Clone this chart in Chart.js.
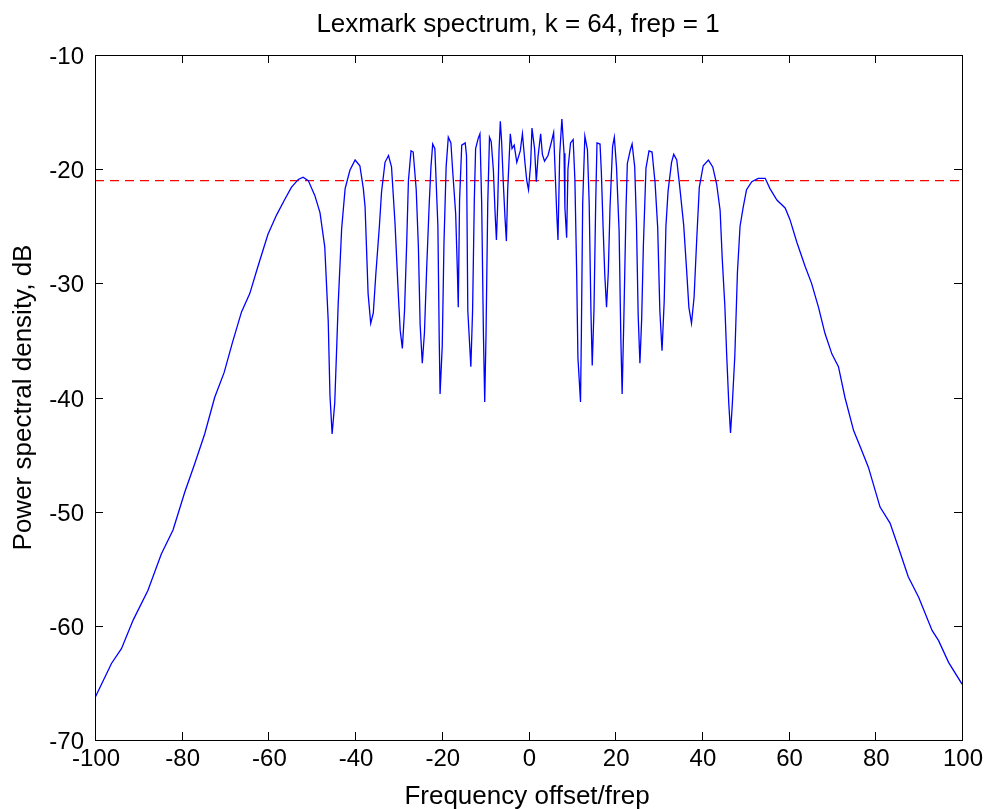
<!DOCTYPE html>
<html>
<head>
<meta charset="utf-8">
<script src="https://cdn.jsdelivr.net/npm/chart.js@4.4.1/dist/chart.umd.min.js"></script>
<style>
    body { margin: 0; background: #ffffff; }
    #wrap { width: 984px; height: 809px; }
</style>
</head>
<body>
<div id="wrap"><canvas id="spectrumChart" width="984" height="809"></canvas></div>
<script>
// Lexmark spectrum
const freq = [
    -100.0, -96.2, -93.9, -91.2, -87.8, -84.7, -82.0, -79.3, -77.0, -74.7,
    -72.4, -70.2, -68.3, -66.2, -64.3, -62.4, -60.1, -58.1, -56.3, -54.7,
    -53.1, -52.0, -50.8, -49.3, -48.1, -47.0, -46.2, -45.8, -45.3, -44.7,
    -44.3, -43.9, -43.1, -42.3, -41.2, -40.0, -38.9, -38.1, -37.7, -37.0,
    -36.4, -35.8, -35.2, -34.4, -33.9, -33.1, -32.3, -31.6, -30.8, -30.0,
    -29.6, -29.1, -28.6, -28.1, -27.7, -27.1, -26.6, -25.9, -25.4, -25.0,
    -24.5, -24.0, -23.5, -22.9, -22.5, -22.1, -21.6, -20.9, -20.6, -20.4,
    -19.9, -19.5, -19.0, -18.5, -17.9, -17.5, -16.8, -16.4, -16.2, -15.9,
    -15.4, -14.6, -14.3, -14.0, -13.3, -12.9, -12.5, -12.2, -11.6, -11.2,
    -10.8, -10.4, -10.1, -9.8, -9.4, -9.0, -8.6, -8.1, -7.7, -7.4,
    -7.1, -6.8, -6.5, -6.2, -5.8, -5.4, -5.1, -4.8, -4.2, -3.8,
    -3.3, -2.7, -1.9, -1.4, -0.8, -0.4, 0.0, 0.5, 0.8, 1.4,
    1.8, 2.2, 2.8, 3.2, 3.7, 4.5, 5.3, 5.8, 6.5, 6.8,
    7.2, 7.7, 8.2, 8.4, 8.8, 9.1, 9.7, 10.3, 10.7, 11.1,
    11.4, 12.0, 12.2, 12.5, 13.0, 13.6, 14.0, 14.4, 14.7, 15.1,
    15.5, 15.8, 16.5, 16.8, 17.2, 17.6, 18.0, 18.4, 18.8, 19.4,
    19.8, 20.3, 20.9, 21.3, 21.6, 22.0, 22.5, 22.8, 23.5, 23.9,
    24.5, 24.9, 25.3, 25.7, 26.1, 26.5, 27.1, 27.8, 28.5, 29.2,
    29.8, 30.3, 30.8, 31.3, 31.7, 32.2, 33.0, 33.5, 34.2, 34.9,
    35.8, 36.5, 37.0, 37.6, 38.2, 38.8, 39.4, 40.3, 41.5, 42.5,
    43.4, 44.2, 44.7, 45.3, 45.7, 46.2, 46.6, 47.0, 47.6, 48.2,
    48.8, 49.5, 50.3, 51.5, 53.0, 54.6, 55.7, 57.3, 59.2, 60.3,
    61.9, 63.8, 65.3, 66.9, 68.4, 70.0, 71.5, 73.0, 75.0, 76.5,
    78.4, 81.1, 83.4, 85.3, 87.6, 90.0, 93.1, 94.6, 96.9, 100.0
];
const psd = [
    -66.3, -63.3, -62.0, -59.5, -56.9, -53.7, -51.6, -48.3, -45.8, -43.2,
    -40.0, -37.8, -35.2, -32.5, -30.9, -28.5, -25.7, -24.0, -22.7, -21.6,
    -20.9, -20.7, -21.0, -22.3, -23.8, -26.8, -33.3, -39.8, -43.2, -40.5,
    -36.2, -31.8, -25.2, -21.7, -20.1, -19.2, -19.7, -21.7, -23.3, -30.9,
    -33.5, -32.6, -29.1, -25.0, -22.0, -19.4, -18.8, -19.8, -24.7, -31.2,
    -34.1, -35.7, -32.4, -26.5, -21.0, -18.4, -18.5, -21.8, -26.8, -33.6,
    -37.0, -34.3, -28.8, -23.0, -19.8, -17.8, -18.2, -25.0, -34.7, -39.7,
    -35.5, -26.5, -19.8, -17.2, -17.7, -20.1, -23.9, -29.0, -32.1, -22.7,
    -17.9, -17.7, -18.8, -32.4, -37.3, -32.4, -22.7, -18.2, -17.3, -16.9,
    -23.0, -34.4, -40.4, -34.5, -23.0, -17.2, -17.6, -20.1, -23.9, -26.2,
    -23.0, -18.4, -15.8, -17.6, -21.3, -24.4, -26.3, -21.8, -16.9, -18.2,
    -17.9, -19.4, -18.4, -16.9, -19.5, -21.0, -21.8, -19.5, -16.4, -18.2,
    -21.1, -18.9, -16.9, -18.7, -19.3, -18.8, -17.6, -16.8, -23.7, -26.2,
    -18.7, -15.6, -18.6, -23.4, -26.0, -20.0, -17.7, -17.4, -20.9, -28.8,
    -36.5, -40.4, -34.3, -23.0, -17.1, -18.3, -23.0, -32.4, -37.2, -32.4,
    -23.0, -17.7, -17.8, -20.2, -25.0, -29.3, -32.1, -29.1, -23.4, -18.0,
    -17.2, -19.8, -25.4, -34.8, -39.7, -33.0, -23.4, -19.5, -18.3, -17.8,
    -19.8, -24.7, -32.8, -37.0, -33.2, -26.7, -19.9, -18.4, -18.5, -21.2,
    -25.1, -32.4, -35.9, -31.6, -25.0, -21.9, -19.4, -18.7, -19.2, -21.6,
    -24.9, -29.0, -32.1, -33.5, -31.2, -26.2, -21.6, -19.7, -19.2, -19.8,
    -21.3, -23.6, -27.9, -32.0, -36.1, -40.5, -43.1, -40.7, -36.3, -29.0,
    -25.0, -23.4, -21.8, -21.1, -20.8, -20.8, -21.7, -22.7, -23.4, -24.4,
    -26.4, -28.5, -30.0, -32.1, -34.4, -36.2, -37.3, -40.0, -42.9, -44.3,
    -46.1, -49.6, -51.0, -53.1, -55.7, -57.5, -60.4, -61.3, -63.2, -65.1
];
const thresholdLevel = -21.0;
const xTicks = [-100, -80, -60, -40, -20, 0, 20, 40, 60, 80, 100];
const yTicks = [-10, -20, -30, -40, -50, -60, -70];

const titleText = 'Lexmark spectrum, k = 64, frep = 1';
const xLabel = 'Frequency offset/frep';
const yLabel = 'Power spectral density, dB';

const fontFamily = "'Liberation Sans', Arial, sans-serif";

// Matlab-like box with inward ticks, labels and titles
const matlabAxes = {
    id: 'matlabAxes',
    afterDraw(chart) {
        const ctx = chart.ctx;
        const area = chart.chartArea;
        const xs = chart.scales.x;
        const ys = chart.scales.y;
        const tickLen = 8;

        ctx.save();
        ctx.strokeStyle = '#000000';
        ctx.lineWidth = 1;
        ctx.strokeRect(area.left + 0.5, area.top + 0.5, area.right - area.left, area.bottom - area.top);

        ctx.beginPath();
        xTicks.forEach(function(v) {
            const px = Math.round(xs.getPixelForValue(v)) + 0.5;
            ctx.moveTo(px, area.bottom);
            ctx.lineTo(px, area.bottom - tickLen);
            ctx.moveTo(px, area.top);
            ctx.lineTo(px, area.top + tickLen);
        });
        yTicks.forEach(function(v) {
            const py = Math.round(ys.getPixelForValue(v)) + 0.5;
            ctx.moveTo(area.left, py);
            ctx.lineTo(area.left + tickLen, py);
            ctx.moveTo(area.right, py);
            ctx.lineTo(area.right - tickLen, py);
        });
        ctx.stroke();

        ctx.fillStyle = '#000000';
        ctx.font = '24px ' + fontFamily;
        ctx.textBaseline = 'alphabetic';
        ctx.textAlign = 'center';
        xTicks.forEach(function(v) {
            ctx.fillText(String(v), xs.getPixelForValue(v) + 1, area.bottom + 26);
        });
        ctx.textAlign = 'right';
        yTicks.forEach(function(v) {
            ctx.fillText(String(v), area.left - 11, ys.getPixelForValue(v) + 9);
        });

        ctx.font = '26px ' + fontFamily;
        ctx.textAlign = 'center';
        ctx.fillText(titleText, 518, 32);
        ctx.fillText(xLabel, 527, 804);

        ctx.translate(31, (area.top + area.bottom) / 2);
        ctx.rotate(-Math.PI / 2);
        ctx.fillText(yLabel, 0, 0);
        ctx.restore();
    }
};

const spectrumPoints = freq.map(function(f, i) { return { x: f, y: psd[i] }; });

const ctx = document.getElementById('spectrumChart').getContext('2d');
const spectrumChart = new Chart(ctx, {
    type: 'line',
    data: {
        datasets: [{
            label: 'PSD',
            data: spectrumPoints,
            borderColor: '#0000ff',
            borderWidth: 1.3,
            pointRadius: 0,
            tension: 0,
            fill: false
        }, {
            label: 'Threshold',
            data: [{ x: -100, y: thresholdLevel }, { x: 100, y: thresholdLevel }],
            borderColor: '#ff0000',
            borderWidth: 1.3,
            borderDash: [9, 6],
            pointRadius: 0,
            fill: false
        }]
    },
    options: {
        responsive: false,
        animation: false,
        devicePixelRatio: 1,
        layout: {
            padding: { left: 95, top: 55, right: 22, bottom: 69 }
        },
        plugins: {
            legend: { display: false },
            tooltip: { enabled: false }
        },
        scales: {
            x: {
                type: 'linear',
                min: -100,
                max: 100,
                display: false
            },
            y: {
                type: 'linear',
                min: -70,
                max: -10,
                display: false
            }
        }
    },
    plugins: [matlabAxes]
});
</script>
</body>
</html>
